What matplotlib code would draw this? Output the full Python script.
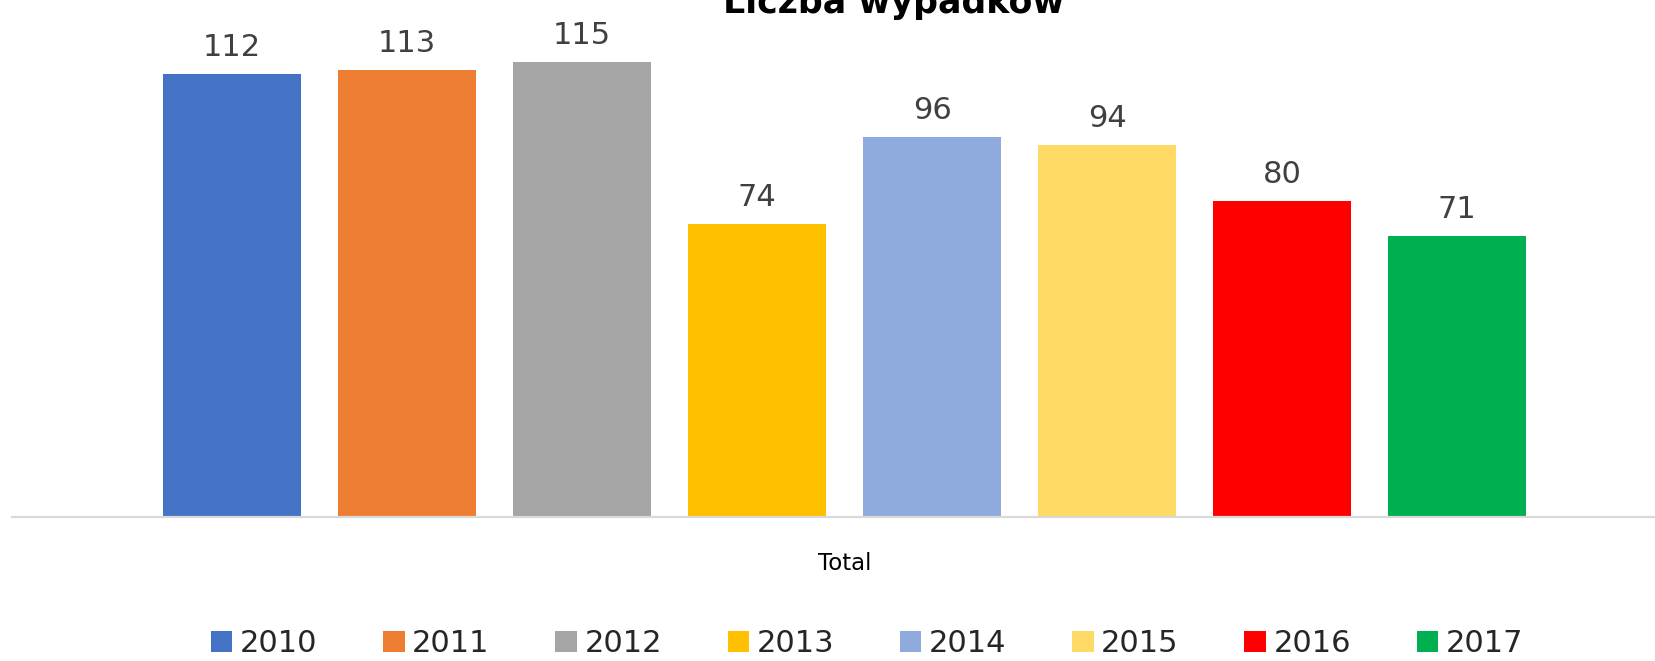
import matplotlib
matplotlib.use("Agg")
import matplotlib.pyplot as plt
from matplotlib.patches import Patch

years = ["2010", "2011", "2012", "2013", "2014", "2015", "2016", "2017"]
values = [112, 113, 115, 74, 96, 94, 80, 71]
category = "Total"
title = "Liczba wypadków"
colors = ["#4472C4", "#ED7D31", "#A5A5A5", "#FFC000", "#8FAADC", "#FFD966", "#FF0000", "#00B050"]

W, H = 1655, 661
fig = plt.figure(figsize=(W / 100, H / 100), dpi=100)
ax_left, ax_right = 12, 1655
ax_bottom, ax_top = 517, 20
ax = fig.add_axes([ax_left / W, 1 - ax_bottom / H, (ax_right - ax_left) / W, (ax_bottom - ax_top) / H])

px_per_unit = 3.955
ax.set_ylim(0, (ax_bottom - ax_top) / px_per_unit)
ax.set_xlim(-4.757, 4.631)

width = 0.789
n = len(years)
for i, (y, v, c) in enumerate(zip(years, values, colors)):
    x = i - (n - 1) / 2
    ax.bar(x, v, width=width, color=c, label=y, zorder=2)
    ax.annotate(str(v), (x, v), xytext=(0, 13), textcoords="offset points",
                ha="center", va="baseline", fontsize=22, color="#404040")

for s in ["top", "right", "left"]:
    ax.spines[s].set_visible(False)
ax.spines["bottom"].set_color("#D9D9D9")
ax.spines["bottom"].set_linewidth(1.6)
ax.set_yticks([])
ax.set_xticks([0])
ax.set_xticklabels([category], fontsize=16.5, color="#000000")
ax.tick_params(axis="x", length=0, pad=25)

fig.text(894 / W, 1 - 13 / H, title, ha="center", va="baseline",
         fontsize=25, fontweight="bold", color="#000000")

handles = [Patch(facecolor=c, edgecolor="none") for c in colors]
fig.legend(handles, years, loc="center", bbox_to_anchor=(867 / W, 1 - 643.5 / H),
           ncol=n, frameon=False, fontsize=22, handlelength=0.7, handleheight=0.7,
           handletextpad=0.25, columnspacing=2.15, labelcolor="#262626")

fig.savefig("out.png", dpi=100)
